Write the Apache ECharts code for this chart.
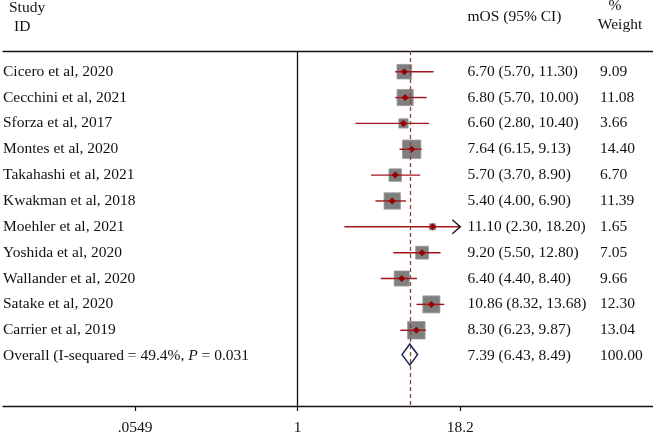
<!DOCTYPE html>
<html>
<head>
<meta charset="utf-8">
<script src="https://cdn.jsdelivr.net/npm/echarts@6/dist/echarts.min.js"></script>
<style>
html,body{margin:0;padding:0;background:#fff;}
#chart{width:653px;height:432px;}
</style>
</head>
<body>
<div id="chart"></div>
<script>
// ---- data ----
const studies = ['Cicero et al, 2020','Cecchini et al, 2021','Sforza et al, 2017','Montes et al, 2020','Takahashi et al, 2021','Kwakman et al, 2018','Moehler et al, 2021','Yoshida et al, 2020','Wallander et al, 2020','Satake et al, 2020','Carrier et al, 2019'];
const estimates = [6.70, 6.80, 6.60, 7.64, 5.70, 5.40, 11.10, 9.20, 6.40, 10.86, 8.30];
const lowerCI  = [5.70, 5.70, 2.80, 6.15, 3.70, 4.00, 2.30, 5.50, 4.40, 8.32, 6.23];
const upperCI  = [11.30, 10.00, 10.40, 9.13, 8.90, 6.90, 18.20, 12.80, 8.40, 13.68, 9.87];
const weights  = [9.09, 11.08, 3.66, 14.40, 6.70, 11.39, 1.65, 7.05, 9.66, 12.30, 13.04];
const overallLabel = 'Overall (I-sequared = 49.4%, {i|P} = 0.031';
const overallEst = 7.39, overallLow = 6.43, overallHigh = 8.49, overallWeight = 100.00;
const tickValues = [0.0549, 1, 18.2];
const tickLabels = ['.0549', '1', '18.2'];

// ---- layout / style ----
const FONT_FAMILY = '"Liberation Serif", "DejaVu Serif", serif';
const FS = 15.5;
const X_MIN = -5.259, X_MAX = 6.340;   // axis extent in ln units (grid spans full width)
const Y_MIN = 0.2, Y_MAX = 13.93;
const COL_STUDY = 3, COL_EST = 467.5, COL_WT = 600;
const SQ_K = 4.85;
const CI_COLOR = '#a3141c', PT_COLOR = '#990000', SQ_COLOR = '#7f7f7f';

const ln = Math.log;
const rows = studies.map((s, i) => [i + 1, ln(estimates[i]), ln(lowerCI[i]), ln(upperCI[i]), weights[i]]);
const axisMaxLn = ln(tickValues[tickValues.length - 1]);

const chart = echarts.init(document.getElementById('chart'), null, {renderer: 'canvas'});

function fmt(v) { return v.toFixed(2); }
const FONT = FS + 'px ' + FONT_FAMILY;
function hdr(text, x, y, align) {
  return {type: 'text', x: x, y: y, style: {text: text, font: FONT, fill: '#111', align: align || 'left', verticalAlign: 'middle'}};
}

const option = {
  animation: false,
  backgroundColor: '#fff',
  grid: {left: 3, right: 0, top: 51, bottom: 26, containLabel: false, outerBoundsMode: 'none'},
  xAxis: [{
    type: 'value', min: X_MIN, max: X_MAX, position: 'bottom',
    splitLine: {show: false},
    axisLine: {show: true, lineStyle: {color: '#111', width: 1.3}},
    axisTick: {show: true, customValues: tickValues.map(ln), length: 5, inside: false, lineStyle: {color: '#111', width: 1.2}},
    axisLabel: {
      show: true, customValues: tickValues.map(ln), margin: 14,
      fontFamily: FONT_FAMILY, fontSize: FS, color: '#111',
      formatter: function (v) {
        let best = 0, d = Infinity;
        tickValues.forEach((t, k) => { const dd = Math.abs(ln(t) - v); if (dd < d) { d = dd; best = k; } });
        return tickLabels[best];
      }
    }
  }, {
    type: 'value', min: X_MIN, max: X_MAX, position: 'top',
    splitLine: {show: false}, axisTick: {show: false}, axisLabel: {show: false},
    axisLine: {show: true, lineStyle: {color: '#111', width: 1.3}}
  }],
  yAxis: {
    type: 'value', min: Y_MIN, max: Y_MAX, inverse: true, show: false
  },
  graphic: [
    hdr('Study', 9, 8),
    hdr('ID', 14, 26.5),
    hdr('mOS (95% CI)', COL_EST, 16.5),
    hdr('%', 615, 6, 'center'),
    hdr('Weight', 620, 24.5, 'center')
  ],
  series: [
    {
      type: 'custom',
      data: rows,
      encode: {x: [1, 2, 3], y: 0},
      clip: false,
      renderItem: function (params, api) {
        const i = api.value(0);
        const pe = api.coord([api.value(1), i]);
        const pl = api.coord([api.value(2), i]);
        const ph = api.coord([api.value(3), i]);
        const side = SQ_K * Math.sqrt(api.value(4));
        const y = pe[1];
        const children = [
          {type: 'rect', shape: {x: pe[0] - side / 2, y: y - side / 2, width: side, height: side},
           style: {fill: SQ_COLOR, stroke: '#9a9a9a', lineWidth: 0.8}},
          {type: 'line', shape: {x1: pl[0], y1: y, x2: ph[0], y2: y},
           style: {stroke: CI_COLOR, lineWidth: 1.4}},
          {type: 'polygon', shape: {points: [[pe[0] - 3.5, y], [pe[0], y - 3.5], [pe[0] + 3.5, y], [pe[0], y + 3.5]]},
           style: {fill: PT_COLOR}}
        ];
        if (api.value(3) >= axisMaxLn - 1e-9) {
          children.push({type: 'polyline', shape: {points: [[ph[0] - 8, y - 7], [ph[0], y], [ph[0] - 8, y + 7]]},
            style: {stroke: '#111', lineWidth: 1.4, fill: null}});
        }
        return {type: 'group', children: children};
      },
      markLine: {
        silent: true, symbol: 'none', label: {show: false},
        data: [
          {xAxis: 0, lineStyle: {color: '#111', width: 1.3, type: 'solid'}},
          {xAxis: ln(overallEst), lineStyle: {color: '#8a4444', width: 1.3, type: [4, 3]}}
        ]
      },
      z: 3
    },
    {
      type: 'custom',
      data: [[studies.length + 1, ln(overallEst), ln(overallLow), ln(overallHigh)]],
      encode: {x: [1, 2, 3], y: 0},
      renderItem: function (params, api) {
        const i = api.value(0);
        const pe = api.coord([api.value(1), i]);
        const pl = api.coord([api.value(2), i]);
        const ph = api.coord([api.value(3), i]);
        const y = pe[1] - 1.5, h = 10.5;
        return {type: 'polygon', shape: {points: [[pl[0], y], [pe[0], y - h], [ph[0], y], [pe[0], y + h]]},
          style: {fill: 'rgba(255,255,255,0)', stroke: '#1c1c4e', lineWidth: 1.5}};
      },
      z: 4
    },
    {
      type: 'custom',
      data: studies.map((s, i) => [i + 1, i]).concat([[studies.length + 1, -1]]),
      encode: {x: 1, y: 0},
      clip: false,
      renderItem: function (params, api) {
        const i = api.value(0);
        const k = api.value(1);
        const y = api.coord([0, i])[1];
        let label, estTxt, wTxt;
        if (k >= 0) {
          label = studies[k];
          estTxt = fmt(estimates[k]) + ' (' + fmt(lowerCI[k]) + ', ' + fmt(upperCI[k]) + ')';
          wTxt = fmt(weights[k]);
        } else {
          label = overallLabel;
          estTxt = fmt(overallEst) + ' (' + fmt(overallLow) + ', ' + fmt(overallHigh) + ')';
          wTxt = fmt(overallWeight);
        }
        return {type: 'group', children: [
          {type: 'text', style: {x: COL_STUDY, y: y, text: label, font: FONT, fill: '#111', verticalAlign: 'middle', align: 'left',
            rich: {i: {fontStyle: 'italic', fontFamily: FONT_FAMILY, fontSize: FS, fill: '#111'}}}},
          {type: 'text', style: {x: COL_EST, y: y, text: estTxt, font: FONT, fill: '#111', verticalAlign: 'middle', align: 'left'}},
          {type: 'text', style: {x: COL_WT, y: y, text: wTxt, font: FONT, fill: '#111', verticalAlign: 'middle', align: 'left'}}
        ]};
      },
      z: 5
    }
  ]
};
chart.setOption(option);
</script>
</body>
</html>
